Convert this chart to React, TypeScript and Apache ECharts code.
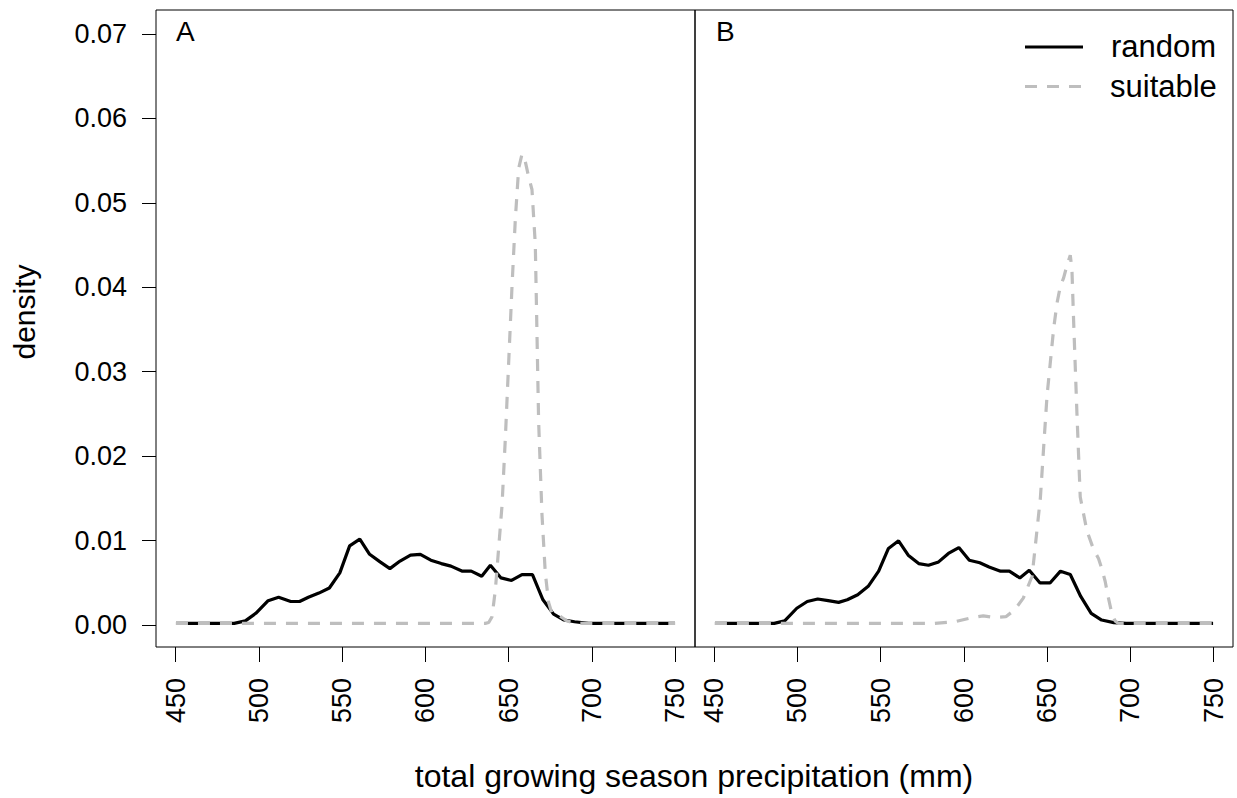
import React, { useEffect, useRef } from "react";
import * as echarts from "echarts";

// Panel A
const randomA_x = [450, 485, 491.7, 498, 505.4, 511.7, 519, 524.3, 529.6, 535.9, 542.2, 548.5, 554.4, 560.5, 566.4, 572.7, 578.6, 584.7, 591, 596.9, 603.2, 609.5, 615.3, 622.2, 627.5, 633.8, 639, 645.4, 651.7, 658, 664.3, 670.6, 677, 683.3, 689.6, 698, 750];
const randomA_y = [0, 0, 0.0003, 0.0012, 0.0027, 0.0031, 0.0026, 0.0026, 0.0031, 0.0036, 0.0042, 0.006, 0.0092, 0.01, 0.0082, 0.0073, 0.0065, 0.0074, 0.0081, 0.0082, 0.0075, 0.0071, 0.0068, 0.0062, 0.0062, 0.0056, 0.0069, 0.0054, 0.0051, 0.0058, 0.0058, 0.0028, 0.0011, 0.0004, 0.0002, 0, 0];
const suitableA_x = [450, 636, 638, 640, 642, 644, 646, 648, 650, 652, 654, 656, 658, 660, 662, 664, 666, 668, 670, 672, 674, 676, 678, 680, 682, 685, 690, 750];
const suitableA_y = [0, 0, 0.0001, 0.0008, 0.004, 0.009, 0.014, 0.022, 0.031, 0.04, 0.048, 0.054, 0.0557, 0.0548, 0.053, 0.0515, 0.045, 0.024, 0.013, 0.006, 0.0025, 0.0012, 0.0011, 0.001, 0.0007, 0.0003, 0, 0];

// Panel B
const randomB_x = [450, 485.7, 492, 499.3, 505.6, 511.9, 518.2, 524.5, 529.7, 536, 542.3, 548.6, 554.5, 560.6, 566.4, 572.7, 578.6, 584.7, 590.6, 596.9, 603.2, 609.5, 615.1, 622, 627.3, 633.6, 639.3, 645.8, 651.8, 658.1, 664, 670.3, 676.6, 682.9, 690.2, 697.6, 750];
const randomB_y = [0, 0, 0.0003, 0.0018, 0.0026, 0.0029, 0.0027, 0.0025, 0.0028, 0.0034, 0.0044, 0.0062, 0.0089, 0.0098, 0.0081, 0.0071, 0.0069, 0.0073, 0.0083, 0.009, 0.0075, 0.0072, 0.0067, 0.0062, 0.0062, 0.0054, 0.0063, 0.0048, 0.0048, 0.0062, 0.0058, 0.0032, 0.0012, 0.0004, 0.0001, 0, 0];
const suitableB_x = [450, 582, 594.4, 603, 611.6, 617.8, 625.2, 630.5, 635.7, 641, 643, 646, 648, 650, 652, 654, 656, 658, 660, 662, 664, 665, 666, 668, 670, 674, 678, 681, 683, 685, 687, 689, 691, 693, 750];
const suitableB_y = [0, 0, 0.0002, 0.0006, 0.0009, 0.0007, 0.0008, 0.0016, 0.003, 0.0056, 0.0093, 0.0149, 0.021, 0.027, 0.031, 0.035, 0.038, 0.04, 0.041, 0.0425, 0.0437, 0.042, 0.036, 0.025, 0.015, 0.011, 0.0088, 0.0077, 0.0065, 0.005, 0.003, 0.0012, 0.0003, 0, 0];

const xTicks = [450, 500, 550, 600, 650, 700, 750];
const yTicks = [0, 0.01, 0.02, 0.03, 0.04, 0.05, 0.06, 0.07];
const seriesNames = ["random", "suitable"];
const panelLabels = ["A", "B"];

const FONT = "Liberation Sans, Arial, sans-serif";
const pair = (xs: number[], ys: number[]) => xs.map((x, i) => [x, ys[i]]);

export default function App() {
  const ref = useRef<HTMLDivElement>(null);
  useEffect(() => {
    if (!ref.current) return;
    const chart = echarts.init(ref.current, null, { renderer: "svg" });
    const hiddenX = (gi: number) => ({ type: "value", gridIndex: gi, min: 438, max: 762, show: false });
    const hiddenY = (gi: number) => ({ type: "value", gridIndex: gi, min: -0.0028, max: 0.0728, show: false });
    const tickX = (gi: number) => ({
      type: "value", gridIndex: gi, min: xTicks[0], max: xTicks[xTicks.length - 1], interval: 50,
      axisLine: { show: false },
      axisTick: { show: true, length: 15, lineStyle: { color: "#000", width: 1 } },
      axisLabel: { show: true, rotate: 90, margin: 31, fontSize: 27, color: "#000", fontFamily: FONT, showMinLabel: true, showMaxLabel: true },
      splitLine: { show: false },
    });
    const lineSeries = (name: string, xi: number, data: number[][], dashed: boolean) => ({
      name, type: "line", xAxisIndex: xi, yAxisIndex: xi, data, showSymbol: false, symbol: "none",
      lineStyle: dashed ? { color: "#bebebe", width: 3.2, type: [12, 10] } : { color: "#000", width: 3.2 },
      z: dashed ? 3 : 2,
    });
    chart.setOption({
      animation: false,
      backgroundColor: "#fff",
      grid: [
        { left: 156, top: 10, width: 539, height: 637, show: true, borderColor: "#000", borderWidth: 1, backgroundColor: "transparent" },
        { left: 695, top: 10, width: 538, height: 637, show: true, borderColor: "#000", borderWidth: 1, backgroundColor: "transparent" },
        { left: 175.7, top: 10, width: 499.5, height: 637 },
        { left: 714, top: 10, width: 499.5, height: 637 },
        { left: 156, top: 34, width: 539, height: 591 },
      ],
      xAxis: [hiddenX(0), hiddenX(1), tickX(2), tickX(3), { type: "value", gridIndex: 4, show: false }],
      yAxis: [
        hiddenY(0), hiddenY(1),
        { type: "value", gridIndex: 2, show: false },
        { type: "value", gridIndex: 3, show: false },
        {
          type: "value", gridIndex: 4, min: yTicks[0], max: yTicks[yTicks.length - 1], interval: 0.01,
          axisLine: { show: false },
          axisTick: { show: true, length: 14, lineStyle: { color: "#000", width: 1 } },
          axisLabel: { show: true, margin: 29, fontSize: 27, color: "#000", fontFamily: FONT, formatter: (v: number) => v.toFixed(2), showMinLabel: true, showMaxLabel: true },
          splitLine: { show: false },
        },
      ],
      series: [
        lineSeries(seriesNames[0], 0, pair(randomA_x, randomA_y), false),
        lineSeries(seriesNames[1], 0, pair(suitableA_x, suitableA_y), true),
        lineSeries(seriesNames[0], 1, pair(randomB_x, randomB_y), false),
        lineSeries(seriesNames[1], 1, pair(suitableB_x, suitableB_y), true),
      ],
      graphic: [
        { type: "text", left: 176, top: 17, style: { text: panelLabels[0], fontSize: 28, fill: "#000", fontFamily: FONT } },
        { type: "text", left: 716, top: 17, style: { text: panelLabels[1], fontSize: 28, fill: "#000", fontFamily: FONT } },
        { type: "line", shape: { x1: 1025, y1: 47, x2: 1083, y2: 47 }, style: { stroke: "#000", lineWidth: 3.2 } },
        { type: "line", shape: { x1: 1025, y1: 86.5, x2: 1083, y2: 86.5 }, style: { stroke: "#bebebe", lineWidth: 3.2, lineDash: [12, 10] } },
        { type: "text", x: 1111, y: 46, style: { text: seriesNames[0], fontSize: 31, fill: "#000", fontFamily: FONT, align: "left", verticalAlign: "middle" } },
        { type: "text", x: 1110, y: 86, style: { text: seriesNames[1], fontSize: 31, fill: "#000", fontFamily: FONT, align: "left", verticalAlign: "middle" } },
        { type: "text", x: 694, y: 776, style: { text: "total growing season precipitation (mm)", fontSize: 32, fill: "#000", fontFamily: FONT, align: "center", verticalAlign: "middle" } },
        { type: "text", x: 24, y: 312, rotation: Math.PI / 2, style: { text: "density", fontSize: 30, fill: "#000", fontFamily: FONT, align: "center", verticalAlign: "middle" } },
      ],
    });
    return () => chart.dispose();
  }, []);
  return <div ref={ref} style={{ width: 1237, height: 798, position: "absolute", left: 0, top: 0 }} />;
}
